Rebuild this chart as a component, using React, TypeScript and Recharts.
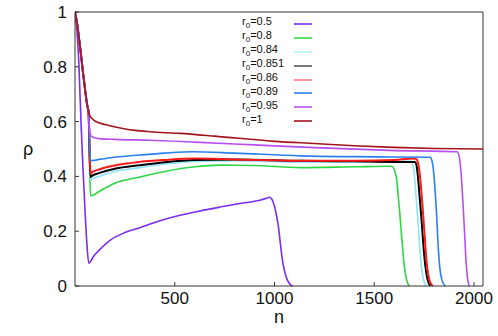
import React from "react";
import { LineChart, Line, XAxis, YAxis, ReferenceLine } from "recharts";

// shared initial decay (all r0 except 0.5)
const dropN = [0, 10, 20, 30, 40, 50, 60, 68];
const dropRho = [1, 0.96, 0.905, 0.845, 0.78, 0.72, 0.665, 0.635];

const n05 = [0, 10, 20, 30, 40, 50, 60, 69, 80, 90, 120, 174, 250, 325, 426, 526, 626, 726, 826, 926, 960, 975, 988, 1001, 1012, 1020, 1027, 1035, 1043, 1052, 1060, 1072, 1090];
const rho05 = [1, 0.93, 0.8, 0.6, 0.43, 0.28, 0.15, 0.083, 0.092, 0.105, 0.13, 0.166, 0.195, 0.213, 0.238, 0.258, 0.274, 0.288, 0.301, 0.313, 0.32, 0.324, 0.315, 0.288, 0.25, 0.215, 0.17, 0.12, 0.08, 0.05, 0.03, 0.012, 0];

const n08 = [70, 74, 78, 85, 120, 200, 325, 450, 600, 725, 900, 1127, 1400, 1587, 1600, 1612, 1620, 1628, 1636, 1642, 1648, 1655, 1663, 1675];
const rho08 = [0.56, 0.42, 0.33, 0.33, 0.345, 0.375, 0.398, 0.418, 0.435, 0.441, 0.44, 0.432, 0.435, 0.437, 0.425, 0.39, 0.33, 0.265, 0.19, 0.14, 0.09, 0.05, 0.02, 0];

const n084 = [70, 74, 78, 85, 120, 200, 325, 450, 600, 800, 1127, 1400, 1600, 1687, 1695, 1703, 1711, 1719, 1727, 1735, 1745, 1760];
const rho084 = [0.58, 0.45, 0.385, 0.39, 0.4, 0.418, 0.432, 0.445, 0.455, 0.457, 0.452, 0.452, 0.455, 0.455, 0.44, 0.39, 0.31, 0.24, 0.15, 0.08, 0.03, 0];

const n0851 = [70, 74, 78, 85, 120, 200, 325, 450, 600, 800, 1127, 1400, 1600, 1704, 1712, 1720, 1728, 1737, 1746, 1755, 1765, 1780];
const rho0851 = [0.585, 0.46, 0.398, 0.402, 0.412, 0.428, 0.441, 0.452, 0.46, 0.462, 0.457, 0.455, 0.453, 0.453, 0.44, 0.39, 0.32, 0.24, 0.15, 0.08, 0.03, 0];

const n086 = [70, 74, 78, 85, 120, 200, 325, 450, 600, 800, 1127, 1400, 1600, 1700, 1712, 1722, 1732, 1742, 1752, 1762, 1772, 1782, 1794];
const rho086 = [0.59, 0.47, 0.41, 0.415, 0.425, 0.44, 0.453, 0.46, 0.465, 0.462, 0.457, 0.457, 0.46, 0.465, 0.462, 0.44, 0.38, 0.29, 0.19, 0.09, 0.035, 0.01, 0];

const n089 = [70, 74, 78, 90, 120, 200, 325, 450, 590, 800, 1127, 1400, 1600, 1780, 1790, 1797, 1804, 1812, 1820, 1828, 1838, 1855];
const rho089 = [0.6, 0.5, 0.458, 0.458, 0.462, 0.47, 0.478, 0.485, 0.49, 0.485, 0.475, 0.472, 0.471, 0.47, 0.455, 0.42, 0.36, 0.265, 0.15, 0.07, 0.025, 0];

const n095 = [72, 78, 90, 120, 200, 375, 600, 900, 1200, 1577, 1915, 1925, 1933, 1940, 1947, 1953, 1960, 1967, 1976];
const rho095 = [0.58, 0.55, 0.543, 0.538, 0.535, 0.532, 0.525, 0.515, 0.505, 0.495, 0.49, 0.475, 0.43, 0.36, 0.27, 0.19, 0.09, 0.03, 0];

const n1 = [75, 85, 100, 175, 300, 375, 525, 700, 1000, 1200, 1400, 1600, 1800, 2045];
const rho1 = [0.62, 0.612, 0.602, 0.585, 0.568, 0.563, 0.557, 0.547, 0.528, 0.52, 0.512, 0.506, 0.502, 0.5];

const r0Labels = ["0.5", "0.8", "0.84", "0.851", "0.86", "0.89", "0.95", "1"];
const colors = ["#7a2cf2", "#2ed645", "#8fe3fb", "#000000", "#ff1a1a", "#2a80f0", "#b94ef0", "#a3141c"];
const legendColors = ["#6a33ff", "#33dd44", "#b5f0ff", "#555555", "#ff8080", "#2a80f0", "#b94ef0", "#a3141c"];

const xTicks = [500, 1000, 1500, 2000];
const yTicks = [0, 0.2, 0.4, 0.6, 0.8, 1];

const toPoints = (n: number[], rho: number[]) => n.map((v, i) => ({ n: v, rho: rho[i] }));
const withDrop = (n: number[], rho: number[]) => toPoints([...dropN, ...n], [...dropRho, ...rho]);

const series = [
  toPoints(n05, rho05),
  withDrop(n08, rho08),
  withDrop(n084, rho084),
  withDrop(n0851, rho0851),
  withDrop(n086, rho086),
  withDrop(n089, rho089),
  withDrop(n095, rho095),
  withDrop(n1, rho1),
];

const font = "'Liberation Sans', Arial, sans-serif";
const axisColor = "#333";

function Legend() {
  return (
    <div style={{ position: "absolute", left: 242, top: 17, fontFamily: font, fontSize: 11, color: "#111" }}>
      {r0Labels.map((label, i) => (
        <div key={label} style={{ height: 13.9, display: "flex", alignItems: "center" }}>
          <div style={{ width: 52, lineHeight: "11px" }}>
            r<sub style={{ fontSize: 8 }}>0</sub>={label}
          </div>
          <svg width={18} height={4} style={{ display: "block" }}>
            <line x1={0} x2={18} y1={2} y2={2} stroke={legendColors[i]} strokeWidth={1.6} />
          </svg>
        </div>
      ))}
    </div>
  );
}

export default function App() {
  return (
    <div style={{ position: "absolute", left: 0, top: 0, width: 498, height: 336, background: "#fff" }}>
      <LineChart width={498} height={336} margin={{ top: 12, right: 15, bottom: 10, left: 0 }}>
        <XAxis
          dataKey="n"
          type="number"
          domain={[0, 2045]}
          ticks={xTicks}
          height={40}
          allowDataOverflow
          tickSize={-4}
          tickMargin={10}
          stroke={axisColor}
          tick={{ fill: "#111", fontSize: 17, fontFamily: font }}
          label={{ value: "n", position: "insideBottom", offset: 3, fill: "#111", fontSize: 18, fontFamily: font }}
        />
        <YAxis
          type="number"
          domain={[0, 1]}
          ticks={yTicks}
          width={75}
          tickSize={-4}
          tickMargin={12}
          stroke={axisColor}
          tick={{ fill: "#111", fontSize: 17, fontFamily: font }}
          label={{ value: "ρ", position: "insideLeft", offset: 23, fill: "#111", fontSize: 18, fontFamily: font }}
        />
        <ReferenceLine y={1} stroke={axisColor} />
        <ReferenceLine x={2045} stroke={axisColor} />
        {series.map((data, i) => (
          <Line
            key={r0Labels[i]}
            data={data}
            dataKey="rho"
            type="monotone"
            stroke={colors[i]}
            strokeWidth={i === 3 || i === 4 ? 2 : 1.6}
            dot={false}
            isAnimationActive={false}
          />
        ))}
      </LineChart>
      <Legend />
    </div>
  );
}
